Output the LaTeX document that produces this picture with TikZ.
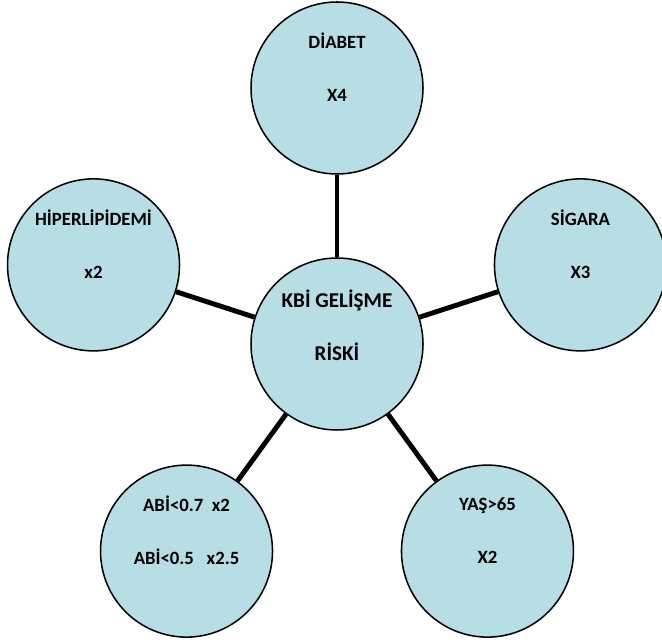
\documentclass[tikz,border=0pt]{standalone}
\usepackage{fontspec}
\setmainfont{Carlito}
\usepackage{tikz}
\definecolor{bubblefill}{RGB}{183,222,228}

\begin{document}
\begin{tikzpicture}[
    bubble/.style={circle,draw=black,line width=1.3pt,fill=bubblefill,minimum size=5.16cm,inner sep=0pt},
    bubbletext/.style={align=center,font=\bfseries\fontsize{16}{45}\selectfont},
    centertext/.style={align=center,font=\bfseries\fontsize{18}{45}\selectfont},
    spoke/.style={line width=4.2pt}]
      \useasboundingbox (-10.11,-9.0) rectangle (9.75,10.32);
      % the five risk factors sit on a pentagon round the centre
      \node[bubble] (kbi) at (0,0) {};
      \node[bubble] (diabet) at (90:7.68) {};
      \node[bubble] (sigara) at (18:7.68) {};
      \node[bubble] (hiper) at (162:7.68) {};
      \node[bubble] (abi) at (234:7.68) {};
      \node[bubble] (yas) at (306:7.68) {};
      \draw[spoke] (kbi) -- (diabet);
      \draw[spoke] (kbi) -- (sigara);
      \draw[spoke] (kbi) -- (hiper);
      \draw[spoke] (kbi) -- (abi);
      \draw[spoke] (kbi) -- (yas);
      \node[centertext] (kbitext) at ([yshift=0.56cm]kbi.center) {KBİ GELİŞME\\RİSKİ};
      \node[bubbletext] (diabettext) at ([yshift=0.62cm]diabet.center) {DİABET\\X4};
      \node[bubbletext] (sigaratext) at ([yshift=0.62cm]sigara.center) {SİGARA\\X3};
      \node[bubbletext] (hipertext) at ([yshift=0.62cm]hiper.center) {HİPERLİPİDEMİ\\x2};
      \node[bubbletext] (abitext) at ([yshift=0.62cm]abi.center) {ABİ<0.7~~x2\\ABİ<0.5~~~x2.5};
      \node[bubbletext] (yastext) at ([yshift=0.62cm]yas.center) {YAŞ>65\\X2};
\end{tikzpicture}
\end{document}
